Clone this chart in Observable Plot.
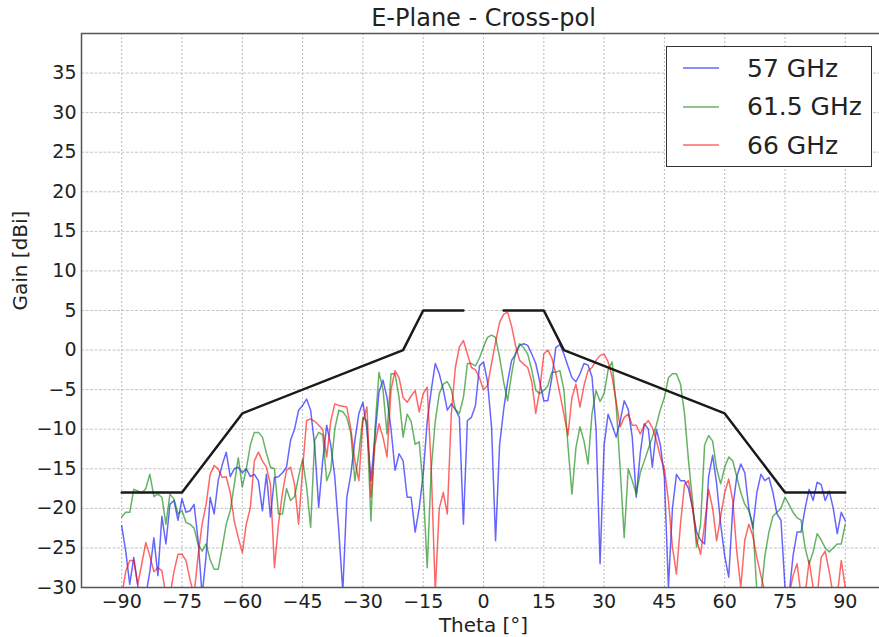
<!DOCTYPE html>
<html>
<head>
<meta charset="utf-8">
<script src="https://cdn.jsdelivr.net/npm/d3@7"></script>
<script src="https://cdn.jsdelivr.net/npm/@observablehq/plot@0.6"></script>
<style>
  html, body { margin: 0; padding: 0; background: #fff; overflow: hidden; }
  #wrap { position: relative; width: 879px; height: 637px; overflow: hidden; }
  #wrap > svg { max-width: none !important; width: 885px; height: 637px; display: block; }
  #legend { position: absolute; left: 666px; top: 46px; width: 206px; height: 121px;
            border: 1.5px solid #333; background: #fff; box-sizing: border-box;
            font-family: "DejaVu Sans"; font-size: 25px; color: #222; }
  .entry { position: absolute; left: 0; height: 30px; display: flex; align-items: center; }
  .entry svg { margin-left: 16px; }
  .entry span { margin-left: 28px; white-space: nowrap; }
</style>
</head>
<body>
<div id="wrap"></div>
<script>
// Measurement angles, one sample per degree
const theta = d3.range(-90, 91);

// Axis ticks
const xTicks = [-90, -75, -60, -45, -30, -15, 0, 15, 30, 45, 60, 75, 90];
const yTicks = [-30, -25, -20, -15, -10, -5, 0, 5, 10, 15, 20, 25, 30, 35];

// Cross-pol gain [dBi] per frequency, theta = -90 … 90
const gain57 = [
  -22.2, -25.4, -29.6, -26.2, -29.8, -31, -31, -28, -23.7, -28.5,
  -21, -24.5, -19.5, -19, -21.5, -18.8, -20.5, -20.3, -19.5, -24,
  -31, -26, -18.6, -20.7, -16.5, -14.5, -12.9, -16, -15, -14.8,
  -15.5, -15, -16, -15.7, -16.5, -20.3, -15.7, -21.1, -16.1, -16,
  -15.5, -14.8, -11.4, -10, -7.6, -7, -6.2, -7.6, -12, -19.9,
  -14, -9.5, -12, -16, -22.8, -30.5, -18.6, -15.7, -11.4, -8,
  -6.6, -10, -16.5, -11, -5.3, -3.8, -6, -10, -15.2, -13.1,
  -14, -18.6, -18.6, -23, -20, -15.7, -9, -5.1, -1.7, -3,
  -5, -7.6, -6.8, -7.5, -8.5, -22, -8.9, -8.5, -7, -2,
  -1.5, -4, -9.7, -24.1, -12, -7.6, -4, -1.3, -0.5, 0.6,
  0.8, 0.6, -0.5, -1.7, -4, -6.4, -6.4, -3.5, 0.3, 0.7,
  -0.5, -2, -3.5, -4, -3, -1.7, -1.9, -3.4, -10, -27,
  -12, -8.1, -9.5, -11, -9, -6.4, -7.5, -11, -18.6, -13,
  -9.3, -10, -14.8, -10, -12, -16.1, -30, -20, -15.7, -16.5,
  -16.5, -17.5, -20, -23, -24, -24.5, -16, -13.3, -16.9, -22,
  -26, -28.7, -20, -16, -14.4, -15.5, -20, -22.5, -18, -15.7,
  -16.5, -16.1, -18, -20.7, -21.5, -30, -31, -26, -23, -23,
  -20, -17.6, -19, -16.7, -17, -19, -17.8, -20, -23.2, -20.5, -21.6
];
const gain615 = [
  -21.1, -20.5, -20.5, -17.6, -17.8, -18.1, -17.5, -15.7, -18.5, -18.2,
  -18.6, -22, -18.2, -18.8, -20.7, -20.3, -21.8, -22, -22.5, -24.5,
  -25.4, -24.5, -26.5, -27.7, -27.7, -25, -22, -20.3, -17, -13.6,
  -17.3, -15, -12, -10.4, -10.4, -11, -13, -14.8, -15, -20.7,
  -20.7, -17.5, -19, -18.5, -16, -13.8, -17.3, -22.4, -11.4, -10.4,
  -10.7, -16.5, -15.2, -10, -7.6, -7.8, -8.5, -10.5, -16.5, -13,
  -8.5, -9, -21.6, -10, -2.8, -5, -10.6, -3, -3, -6,
  -11, -8.1, -9, -11.9, -11.6, -17.3, -27.5, -15, -9, -5.5,
  -4.3, -4, -5, -7.5, -8, -6, -1.7, -1.7, -2, -1,
  0.4, 1.6, 1.9, 1.6, -0.9, -4, -6.4, -3, -0.3, 0.8,
  0.3, -0.5, -2.5, -5.1, -5.5, -5.1, -4.5, -2.8, -2.8, -2.6,
  -5, -12, -18.2, -12.3, -9.7, -11.5, -14.4, -8, -5.1, -6.5,
  -5.5, -2.5, -1.5, -7, -15, -23.7, -15, -16.5, -18.2, -15.5,
  -14, -12.5, -11, -9.5, -7.5, -6, -3.5, -3, -3, -4.3,
  -8, -14, -19, -24.9, -22, -12, -10.8, -11.5, -15, -16.9,
  -14.8, -13.5, -14, -16, -18, -19.5, -20.3, -22, -30.5, -31,
  -26, -23, -21, -20.5, -20, -18.6, -19.5, -20.5, -21.2, -21.5,
  -25, -27, -25.5, -23.2, -24, -25, -25.5, -25, -24.5, -24.5, -22
];
const gain66 = [
  -31, -28, -26.6, -26.6, -29.6, -27, -24.3, -26, -28, -27.5,
  -27.9, -31, -31, -28, -25.8, -25.8, -26.6, -29, -31, -26,
  -22, -19.5, -15.7, -14.6, -15, -16.1, -16, -18, -21.6, -23.7,
  -25.6, -22, -19.9, -14, -12.9, -14, -14.8, -17, -27.5, -22,
  -18, -15.2, -14.8, -17, -22, -15, -8.9, -8.7, -9, -9.5,
  -10, -13.5, -9, -6.8, -7, -7.1, -7.2, -10, -14, -16.5,
  -9, -7.2, -18.6, -12, -9.3, -11, -13.5, -5, -2.6, -3.5,
  -6, -6.6, -5.8, -5.1, -7.8, -5.5, -4.7, -15, -30.5, -20,
  -18, -20.7, -8, -2.2, 0.4, 1.2, -0.5, -2.2, -2.5, -3.5,
  -5, -4.5, -1.7, 1, 3.5, 4.5, 4.8, 3, 0.5, -1.3,
  -1.8, -2.2, -4, -8, -5, -0.5, 0, -1, -3, -5.5,
  -8.1, -10.8, -6, -4.3, -7.2, -4.5, -2.6, -2.2, -1.3, -0.7,
  -0.5, -1.5, -3.4, -6.5, -9.7, -8.5, -8.1, -9.5, -9.5, -10.6,
  -9.5, -8.9, -9.8, -11.4, -13.5, -15, -19, -24.9, -28.3, -22,
  -17, -16.5, -20, -24, -25.8, -22, -17.6, -20, -24.1, -21,
  -18, -16.3, -19, -25.4, -30, -24, -22, -23.5, -26.2, -28.5,
  -30.5, -31, -31, -31, -31, -31, -31, -28.5, -27, -31,
  -31, -26.6, -30, -31, -26.2, -25.4, -28, -31, -31, -26.6, -30
];

// Series names and colours
const seriesNames = ["57 GHz", "61.5 GHz", "66 GHz"];
const seriesColors = ["#0000ff", "#008000", "#ff0000"];
const seriesGains = [gain57, gain615, gain66];

// Limit mask (two branches with a gap around boresight)
const maskTheta = [-90, -75, -60, -20, -15, -5, 5, 15, 20, 60, 75, 90];
const maskGain  = [-18, -18, -8, 0, 5, 5, 5, 5, 0, -8, -18, -18];
const maskSeg   = ["L", "L", "L", "L", "L", "L", "R", "R", "R", "R", "R", "R"];

const traces = seriesNames.flatMap((name, i) =>
  theta.map((t, j) => ({theta: t, gain: seriesGains[i][j], series: name})));
const mask = maskTheta.map((t, i) => ({theta: t, gain: maskGain[i], seg: maskSeg[i]}));

const fmt = d => d < 0 ? "\u2212" + (-d) : String(d);

const chart = Plot.plot({
  width: 885,
  height: 637,
  marginTop: 33,
  marginBottom: 50,
  marginLeft: 81,
  marginRight: 0,
  style: {fontFamily: "DejaVu Sans", fontSize: "19px", color: "#222", background: "#fff"},
  x: {domain: [-100, 100], ticks: xTicks, tickFormat: fmt, tickSize: 0, tickPadding: 7, label: null},
  y: {domain: [-30, 40], ticks: yTicks, tickFormat: fmt, tickSize: 0, tickPadding: 5, label: null},
  color: {domain: seriesNames, range: seriesColors},
  marks: [
    Plot.ruleX(xTicks, {stroke: "#bbb", strokeDasharray: "2,2"}),
    Plot.ruleY(yTicks, {stroke: "#c4c4c4", strokeDasharray: "3,1.5"}),
    ...seriesNames.map(name =>
      Plot.line(traces.filter(d => d.series === name), {
        x: "theta", y: "gain", stroke: "series", strokeWidth: 1.5,
        strokeOpacity: 0.6, clip: true
      })),
    Plot.line(mask, {x: "theta", y: "gain", z: "seg", stroke: "#1a1a1a", strokeWidth: 2.5}),
    Plot.frame({stroke: "#555", strokeWidth: 1.5}),
    Plot.text(["E-Plane - Cross-pol"], {text: d => d, frameAnchor: "top", lineAnchor: "middle", dy: -15, fontSize: 24, fill: "#222"}),
    Plot.text(["Theta [°]"], {text: d => d, frameAnchor: "bottom", lineAnchor: "middle", dy: 38, fontSize: 20, fill: "#222"}),
    Plot.text(["Gain [dBi]"], {text: d => d, frameAnchor: "left", dx: -61, rotate: -90, fontSize: 20, fill: "#222"})
  ]
});
chart.style.maxWidth = "none";

const wrap = document.getElementById("wrap");
wrap.appendChild(chart);

// Legend box in the upper right corner of the axes
const legend = d3.select(wrap).append("div").attr("id", "legend");
seriesNames.forEach((name, i) => {
  const row = legend.append("div").attr("class", "entry").style("top", (6 + i * 38.5) + "px");
  const sw = row.append("svg").attr("width", 36).attr("height", 6);
  sw.append("line").attr("x1", 0).attr("x2", 36).attr("y1", 3).attr("y2", 3)
    .attr("stroke", seriesColors[i]).attr("stroke-opacity", 0.6).attr("stroke-width", 1.5);
  row.append("span").text(name);
});
</script>
</body>
</html>
